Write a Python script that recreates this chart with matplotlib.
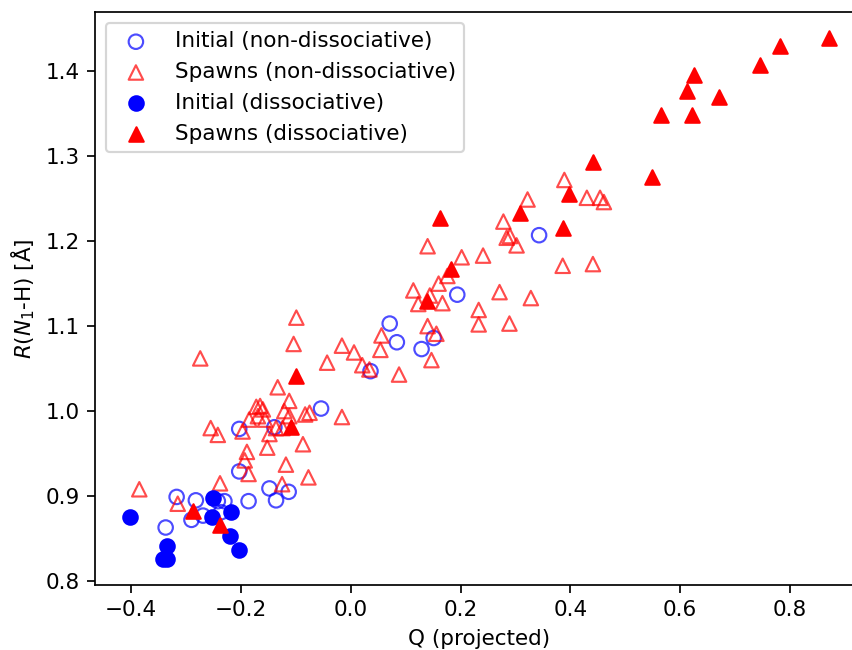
import matplotlib.pyplot as plt
import numpy as np

# Initial conditions, non-dissociative (open circles)
init_nd_q = [-0.317, -0.282, -0.269, -0.290, -0.337, -0.242, -0.230, -0.186, -0.203,
             -0.148, -0.136, -0.113, -0.139, -0.203, -0.054, 0.036, 0.071, 0.084,
             0.129, 0.151, 0.194, 0.343, -0.236]
init_nd_r = [0.899, 0.895, 0.877, 0.872, 0.863, 0.894, 0.894, 0.894, 0.929,
             0.909, 0.895, 0.905, 0.981, 0.979, 1.003, 1.047, 1.103, 1.081,
             1.073, 1.086, 1.137, 1.207, 0.881]

# Spawns, non-dissociative (open triangles)
spawn_nd_q = [-0.385, -0.315, -0.238, -0.189, -0.193, -0.186, -0.125, -0.118, -0.077,
              -0.087, -0.152, -0.255, -0.242, -0.197, -0.148, -0.274, -0.099, -0.104,
              -0.016, 0.006, -0.043, -0.133, -0.112, -0.172, -0.165, -0.160, -0.185,
              -0.169, -0.156, -0.121, -0.112, -0.083, -0.075, -0.016, -0.136, -0.124,
              0.140, 0.202, 0.241, 0.271, 0.176, 0.160, 0.114, 0.144, 0.123,
              0.167, 0.233, 0.233, 0.140, 0.156, 0.056, 0.054, 0.147, 0.021,
              0.034, 0.088, 0.389, 0.430, 0.454, 0.461, 0.322, 0.278, 0.284,
              0.290, 0.302, 0.386, 0.441, 0.328, 0.289]
spawn_nd_r = [0.908, 0.891, 0.915, 0.952, 0.942, 0.926, 0.914, 0.937, 0.922,
              0.961, 0.957, 0.980, 0.972, 0.976, 0.973, 1.062, 1.110, 1.079,
              1.077, 1.069, 1.057, 1.028, 1.012, 1.005, 1.006, 1.002, 0.990,
              0.994, 0.990, 1.000, 0.994, 0.996, 0.998, 0.993, 0.980, 0.980,
              1.194, 1.181, 1.183, 1.140, 1.159, 1.150, 1.142, 1.136, 1.126,
              1.127, 1.119, 1.102, 1.100, 1.091, 1.089, 1.072, 1.060, 1.054,
              1.049, 1.043, 1.272, 1.251, 1.251, 1.246, 1.249, 1.223, 1.204,
              1.206, 1.195, 1.171, 1.173, 1.133, 1.103]

# Initial conditions, dissociative (filled circles)
init_d_q = [-0.402, -0.335, -0.342, -0.335, -0.251, -0.253, -0.218, -0.219, -0.203]
init_d_r = [0.875, 0.841, 0.826, 0.826, 0.898, 0.875, 0.881, 0.853, 0.837]

# Spawns, dissociative (filled triangles)
spawn_d_q = [-0.288, -0.238, -0.108, -0.099, 0.138, 0.182, 0.162, 0.308, 0.386, 0.398,
             0.442, 0.548, 0.565, 0.621, 0.612, 0.626, 0.671, 0.746, 0.781, 0.871]
spawn_d_r = [0.882, 0.866, 0.981, 1.041, 1.130, 1.167, 1.227, 1.233, 1.216, 1.255,
             1.293, 1.276, 1.348, 1.348, 1.377, 1.396, 1.370, 1.407, 1.430, 1.439]

dpi = 155
fig = plt.figure(figsize=(852 / dpi, 650 / dpi), dpi=dpi)
ax = fig.add_axes([95 / 852, 65 / 650, 769 / 852, 573 / 650])

ax.scatter(init_nd_q, init_nd_r, s=45, marker='o', facecolors='none', edgecolors='blue',
           alpha=0.7, label='Initial (non-dissociative)')
ax.scatter(spawn_nd_q, spawn_nd_r, s=45, marker='^', facecolors='none', edgecolors='red',
           alpha=0.7, label='Spawns (non-dissociative)')
ax.scatter(init_d_q, init_d_r, s=45, marker='o', color='blue', label='Initial (dissociative)')
ax.scatter(spawn_d_q, spawn_d_r, s=45, marker='^', color='red', label='Spawns (dissociative)')

ax.set_xlabel('Q (projected)')
ax.set_ylabel(r'$R(N_1$-H) [Å]')
ax.legend(loc='upper left')

fig.savefig('out.png', dpi=dpi)
